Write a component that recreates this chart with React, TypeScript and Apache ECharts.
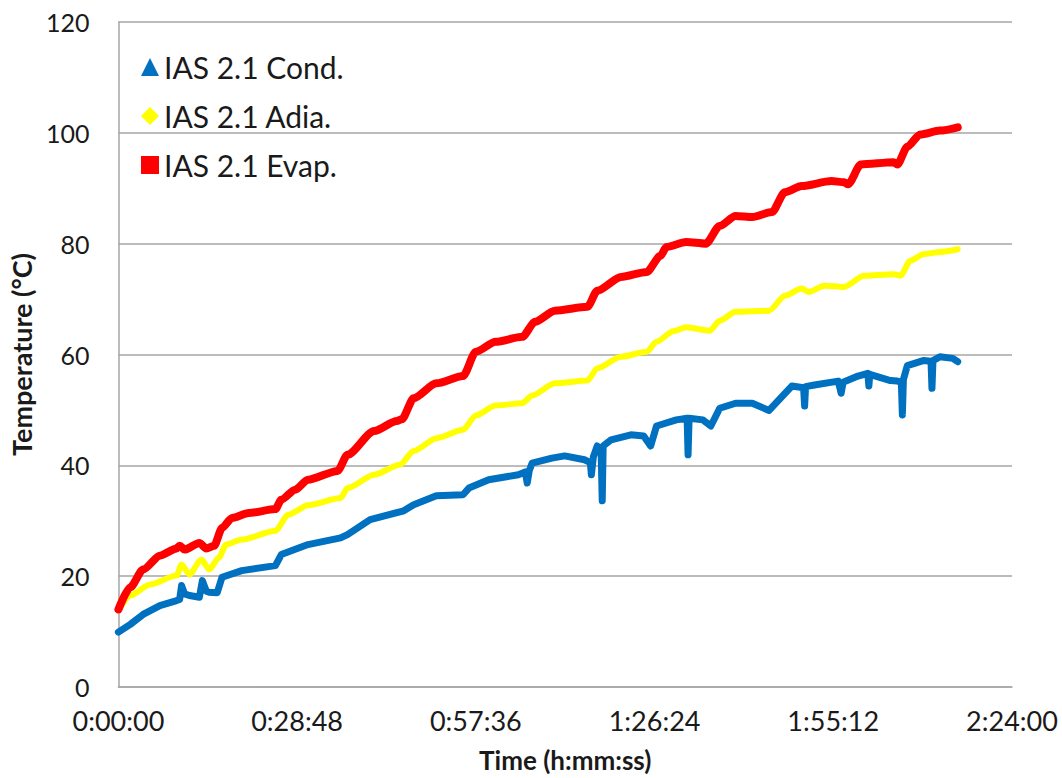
import React, { useEffect, useRef } from "react";
import * as echarts from "echarts";

// time in seconds, temperature in °C
const condData: [number, number][] = [
  [0, 9.9], [115, 11.3], [239, 13.1], [401, 14.7], [563, 15.6], [592, 15.8], [611, 18.3], [640, 16.8],
  [687, 16.5], [783, 16.2], [812, 19.2], [850, 17.3], [878, 17.1], [955, 17.0], [1002, 19.8], [1193, 21.0],
  [1518, 21.9], [1575, 23.9], [1833, 25.7], [2148, 26.9], [2215, 27.5], [2434, 30.2], [2759, 31.8],
  [2855, 32.9], [3074, 34.5], [3332, 34.7], [3389, 35.9], [3580, 37.4], [3867, 38.3], [3934, 38.8],
  [3953, 36.8], [3972, 39.0], [4000, 40.4], [4191, 41.3], [4315, 41.7], [4506, 41.0], [4563, 40.5],
  [4573, 38.3], [4592, 41.5], [4630, 43.5], [4668, 42.0], [4678, 33.6], [4687, 43.5], [4764, 44.6],
  [4955, 45.5], [5079, 45.3], [5146, 43.5], [5203, 47.1], [5394, 48.2], [5499, 48.5], [5508, 41.9],
  [5518, 48.5], [5652, 48.2], [5728, 47.1], [5814, 50.3], [5967, 51.2], [6129, 51.2], [6291, 49.9],
  [6511, 54.3], [6625, 54.0], [6635, 50.7], [6644, 54.2], [6730, 54.5], [6960, 55.2], [6988, 53.0],
  [7007, 55.0], [7151, 56.1], [7246, 56.6], [7256, 54.3], [7265, 56.4], [7465, 55.3], [7532, 55.2],
  [7570, 55.0], [7580, 49.1], [7590, 55.5], [7628, 58.0], [7781, 58.9], [7857, 58.8], [7866, 53.9],
  [7876, 58.9], [7943, 59.6], [8067, 59.3], [8115, 58.7],
];

const adiaData: [number, number][] = [
  [0, 13.8], [115, 16.5], [306, 18.5], [563, 20.1], [611, 22.1], [687, 20.3], [802, 23.0], [878, 21.2],
  [974, 23.4], [1041, 25.7], [1193, 26.6], [1518, 28.2], [1642, 31.1], [1833, 32.8], [2148, 34.1],
  [2215, 35.9], [2473, 38.3], [2721, 40.1], [2855, 42.6], [3074, 44.9], [3332, 46.4], [3456, 49.0],
  [3647, 50.8], [3905, 51.2], [4000, 52.6], [4220, 54.8], [4535, 55.3], [4630, 57.5], [4859, 59.6],
  [5108, 60.5], [5203, 62.3], [5365, 64.2], [5489, 64.9], [5718, 64.3], [5814, 66.1], [5967, 67.7],
  [6291, 67.9], [6444, 70.6], [6606, 71.9], [6673, 71.3], [6826, 72.4], [7017, 72.2], [7208, 74.2],
  [7494, 74.5], [7561, 74.2], [7657, 76.9], [7781, 78.1], [7943, 78.5], [8115, 79.0],
];

const evapData: [number, number][] = [
  [0, 14.0], [115, 18.0], [239, 21.2], [401, 23.7], [563, 25.0], [592, 25.5], [640, 24.8], [783, 26.0],
  [850, 25.0], [926, 25.5], [1002, 28.7], [1098, 30.5], [1260, 31.4], [1518, 32.1], [1575, 33.8],
  [1709, 35.6], [1833, 37.4], [2119, 39.0], [2215, 41.9], [2473, 46.2], [2692, 48.0], [2740, 48.3],
  [2855, 52.1], [3074, 54.8], [3332, 56.1], [3456, 60.5], [3647, 62.3], [3905, 63.2], [4029, 65.9],
  [4220, 67.9], [4535, 68.6], [4630, 71.5], [4859, 74.0], [5108, 74.9], [5241, 77.8], [5298, 79.4],
  [5489, 80.3], [5680, 80.0], [5814, 83.2], [5967, 85.0], [6129, 84.8], [6320, 85.7], [6444, 89.3],
  [6606, 90.4], [6893, 91.3], [7017, 91.1], [7055, 90.7], [7179, 94.3], [7494, 94.7], [7532, 94.3],
  [7628, 97.5], [7752, 99.7], [7943, 100.4], [8115, 101.0],
];

const seriesNames = ["IAS 2.1 Cond.", "IAS 2.1 Adia.", "IAS 2.1 Evap."];
const yAxisTitle = "Temperature (°C)";
const xAxisTitle = "Time (h:mm:ss)";

function fmtTime(v: number): string {
  const h = Math.floor(v / 3600);
  const m = Math.floor((v % 3600) / 60);
  const s = Math.round(v % 60);
  return `${h}:${String(m).padStart(2, "0")}:${String(s).padStart(2, "0")}`;
}

export default function App() {
  const ref = useRef<HTMLDivElement>(null);
  useEffect(() => {
    if (!ref.current) return;
    const chart = echarts.init(ref.current, undefined, { renderer: "svg" });
    const font = "Lato";
    chart.setOption({
      animation: false,
      backgroundColor: "#ffffff",
      grid: { left: 109, top: 22, right: 50, bottom: 88, containLabel: false },
      legend: {
        orient: "vertical",
        left: 136,
        top: 46,
        itemWidth: 18,
        itemHeight: 18,
        itemGap: 17,
        textStyle: { fontFamily: font, fontSize: 30, color: "#1a1a1a", lineHeight: 32 },
        data: [
          { name: seriesNames[0], icon: "triangle" },
          { name: seriesNames[1], icon: "diamond" },
          { name: seriesNames[2], icon: "rect" },
        ],
      },
      xAxis: {
        type: "value",
        min: 0,
        max: 8640,
        interval: 1728,
        name: xAxisTitle,
        nameLocation: "middle",
        nameGap: 60,
        nameTextStyle: { fontFamily: font, fontSize: 26, fontWeight: "bold", color: "#1a1a1a" },
        axisLine: { show: true, lineStyle: { color: "#a6a6a6", width: 1.5 } },
        axisTick: { show: false },
        splitLine: { show: false },
        axisLabel: {
          fontFamily: font,
          fontSize: 27,
          color: "#1a1a1a",
          margin: 20,
          formatter: (v: number) => fmtTime(v),
        },
      },
      yAxis: {
        type: "value",
        min: 0,
        max: 120,
        interval: 20,
        name: yAxisTitle,
        nameLocation: "middle",
        nameGap: 72,
        nameTextStyle: { fontFamily: font, fontSize: 27, fontWeight: "bold", color: "#1a1a1a" },
        axisLine: { show: true, lineStyle: { color: "#a6a6a6", width: 1.5 } },
        axisTick: { show: false },
        splitLine: { show: true, lineStyle: { color: "#a6a6a6", width: 1.5 } },
        axisLabel: { fontFamily: font, fontSize: 25, color: "#1a1a1a", margin: 29 },
      },
      series: [
        {
          name: seriesNames[0],
          type: "line",
          data: condData,
          showSymbol: false,
          symbol: "triangle",
          itemStyle: { color: "#0070C0" },
          lineStyle: { color: "#0070C0", width: 7, join: "round", cap: "round" },
          z: 3,
        },
        {
          name: seriesNames[1],
          type: "line",
          data: adiaData,
          showSymbol: false,
          symbol: "diamond",
          smooth: 0.25,
          smoothMonotone: "x",
          itemStyle: { color: "#FFFF00" },
          lineStyle: { color: "#FFFF00", width: 6, join: "round", cap: "round" },
          z: 4,
        },
        {
          name: seriesNames[2],
          type: "line",
          data: evapData,
          showSymbol: false,
          symbol: "rect",
          smooth: 0.25,
          smoothMonotone: "x",
          itemStyle: { color: "#FF0000" },
          lineStyle: { color: "#FF0000", width: 8, join: "round", cap: "round" },
          z: 5,
        },
      ],
    });
    return () => chart.dispose();
  }, []);
  return (
    <div
      ref={ref}
      style={{ position: "absolute", left: 0, top: 0, width: 1062, height: 778 }}
    />
  );
}
